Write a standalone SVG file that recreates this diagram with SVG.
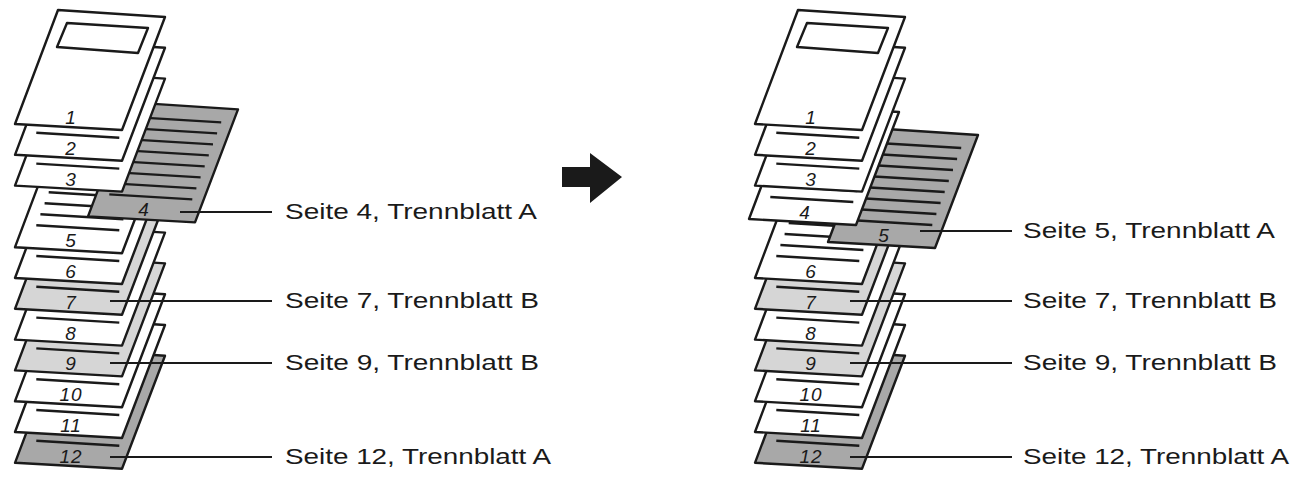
<svg xmlns="http://www.w3.org/2000/svg" xmlns:xlink="http://www.w3.org/1999/xlink" width="1312" height="481" viewBox="0 0 1312 481">
<style>
.pg{stroke:#1a1a1a;stroke-width:2.4;stroke-linejoin:round}
.w{fill:#fff}.lg{fill:#d6d6d6}.dg{fill:#a8a8a8}
.ln{stroke:#1a1a1a;stroke-width:2.4;fill:none}
.n{font-family:"Liberation Sans",Arial,sans-serif;font-style:italic;font-size:19px;fill:#1a1a1a;text-anchor:middle;letter-spacing:1px}
.lb{font-family:"Liberation Sans",Arial,sans-serif;font-size:22px;fill:#1a1a1a}
.ld{stroke:#1a1a1a;stroke-width:2}
</style>
<defs>
<polygon id="pg" points="58,10 165,17 122,130 15,124"/>
<g id="lines" class="ln">
<path d="M36.3,102l83,5M40.4,91l83,5M44.6,80l83,5M48.7,69l83,5M52.8,58l83,5M57,47l83,5M61.1,36l83,5M65.2,25l83,5"/>
</g>
</defs>
<g id="left">
<g id="L12" transform="translate(0,338.8)"><use xlink:href="#pg" class="pg dg"/><use xlink:href="#lines"/><text class="n" x="71" y="124">12</text></g>
<g id="L11" transform="translate(0,308)"><use xlink:href="#pg" class="pg w"/><use xlink:href="#lines"/><text class="n" x="71" y="124">11</text></g>
<g id="L10" transform="translate(0,277.2)"><use xlink:href="#pg" class="pg w"/><use xlink:href="#lines"/><text class="n" x="71" y="124">10</text></g>
<g id="L9" transform="translate(0,246.4)"><use xlink:href="#pg" class="pg lg"/><use xlink:href="#lines"/><text class="n" x="71" y="124">9</text></g>
<g id="L8" transform="translate(0,215.6)"><use xlink:href="#pg" class="pg w"/><use xlink:href="#lines"/><text class="n" x="71" y="124">8</text></g>
<g id="L7" transform="translate(0,184.8)"><use xlink:href="#pg" class="pg lg"/><use xlink:href="#lines"/><text class="n" x="71" y="124">7</text></g>
<g id="L6" transform="translate(0,154)"><use xlink:href="#pg" class="pg w"/><use xlink:href="#lines"/><text class="n" x="71" y="124">6</text></g>
<g id="L5" transform="translate(0,123.2)"><use xlink:href="#pg" class="pg w"/><use xlink:href="#lines"/><text class="n" x="71" y="124">5</text></g>
<g id="L4" transform="translate(73,92.4)"><use xlink:href="#pg" class="pg dg"/><use xlink:href="#lines"/><text class="n" x="71" y="124">4</text></g>
<g id="L3" transform="translate(0,61.6)"><use xlink:href="#pg" class="pg w"/><use xlink:href="#lines"/><text class="n" x="71" y="124">3</text></g>
<g id="L2" transform="translate(0,30.8)"><use xlink:href="#pg" class="pg w"/><use xlink:href="#lines"/><text class="n" x="71" y="124">2</text></g>
<g id="L1"><use xlink:href="#pg" class="pg w"/><polygon class="pg w" points="67,23 148,28 138,53 57,47"/><text class="n" x="71" y="124">1</text></g>
</g>
<g id="right" transform="translate(740,0)">
<g id="R12" transform="translate(0,338.8)"><use xlink:href="#pg" class="pg dg"/><use xlink:href="#lines"/><text class="n" x="71" y="124">12</text></g>
<g id="R11" transform="translate(0,308)"><use xlink:href="#pg" class="pg w"/><use xlink:href="#lines"/><text class="n" x="71" y="124">11</text></g>
<g id="R10" transform="translate(0,277.2)"><use xlink:href="#pg" class="pg w"/><use xlink:href="#lines"/><text class="n" x="71" y="124">10</text></g>
<g id="R9" transform="translate(0,246.4)"><use xlink:href="#pg" class="pg lg"/><use xlink:href="#lines"/><text class="n" x="71" y="124">9</text></g>
<g id="R8" transform="translate(0,215.6)"><use xlink:href="#pg" class="pg w"/><use xlink:href="#lines"/><text class="n" x="71" y="124">8</text></g>
<g id="R7" transform="translate(0,184.8)"><use xlink:href="#pg" class="pg lg"/><use xlink:href="#lines"/><text class="n" x="71" y="124">7</text></g>
<g id="R6" transform="translate(0,154)"><use xlink:href="#pg" class="pg w"/><use xlink:href="#lines"/><text class="n" x="71" y="124">6</text></g>
<g id="R5" transform="translate(73,118)"><use xlink:href="#pg" class="pg dg"/><use xlink:href="#lines"/><text class="n" x="71" y="124">5</text></g>
<g id="R4" transform="translate(-6,95)"><use xlink:href="#pg" class="pg w"/><use xlink:href="#lines"/><text class="n" x="71" y="124">4</text></g>
<g id="R3" transform="translate(0,61.6)"><use xlink:href="#pg" class="pg w"/><use xlink:href="#lines"/><text class="n" x="71" y="124">3</text></g>
<g id="R2" transform="translate(0,30.8)"><use xlink:href="#pg" class="pg w"/><use xlink:href="#lines"/><text class="n" x="71" y="124">2</text></g>
<g id="R1"><use xlink:href="#pg" class="pg w"/><polygon class="pg w" points="67,23 148,28 138,53 57,47"/><text class="n" x="71" y="124">1</text></g>
</g>
<g id="connectors">
<line class="ld" x1="180" y1="212" x2="272" y2="212"/>
<line class="ld" x1="110" y1="301" x2="272" y2="301"/>
<line class="ld" x1="110" y1="363" x2="272" y2="363"/>
<line class="ld" x1="110" y1="457" x2="272" y2="457"/>
<line class="ld" x1="920" y1="231" x2="1012" y2="231"/>
<line class="ld" x1="850" y1="301" x2="1012" y2="301"/>
<line class="ld" x1="850" y1="363" x2="1012" y2="363"/>
<line class="ld" x1="850" y1="457" x2="1012" y2="457"/>
</g>
<g id="arrow"><polygon fill="#1a1a1a" points="562,167 590,167 590,153 622,177 590,203 590,187 562,187"/></g>
<g id="labels">
<text class="lb" x="285" y="219" textLength="252" lengthAdjust="spacingAndGlyphs">Seite 4, Trennblatt A</text>
<text class="lb" x="285" y="308" textLength="254" lengthAdjust="spacingAndGlyphs">Seite 7, Trennblatt B</text>
<text class="lb" x="285" y="370" textLength="254" lengthAdjust="spacingAndGlyphs">Seite 9, Trennblatt B</text>
<text class="lb" x="285" y="464" textLength="266" lengthAdjust="spacingAndGlyphs">Seite 12, Trennblatt A</text>
<text class="lb" x="1023" y="238" textLength="252" lengthAdjust="spacingAndGlyphs">Seite 5, Trennblatt A</text>
<text class="lb" x="1023" y="308" textLength="254" lengthAdjust="spacingAndGlyphs">Seite 7, Trennblatt B</text>
<text class="lb" x="1023" y="370" textLength="254" lengthAdjust="spacingAndGlyphs">Seite 9, Trennblatt B</text>
<text class="lb" x="1023" y="464" textLength="266" lengthAdjust="spacingAndGlyphs">Seite 12, Trennblatt A</text>
</g>
</svg>
